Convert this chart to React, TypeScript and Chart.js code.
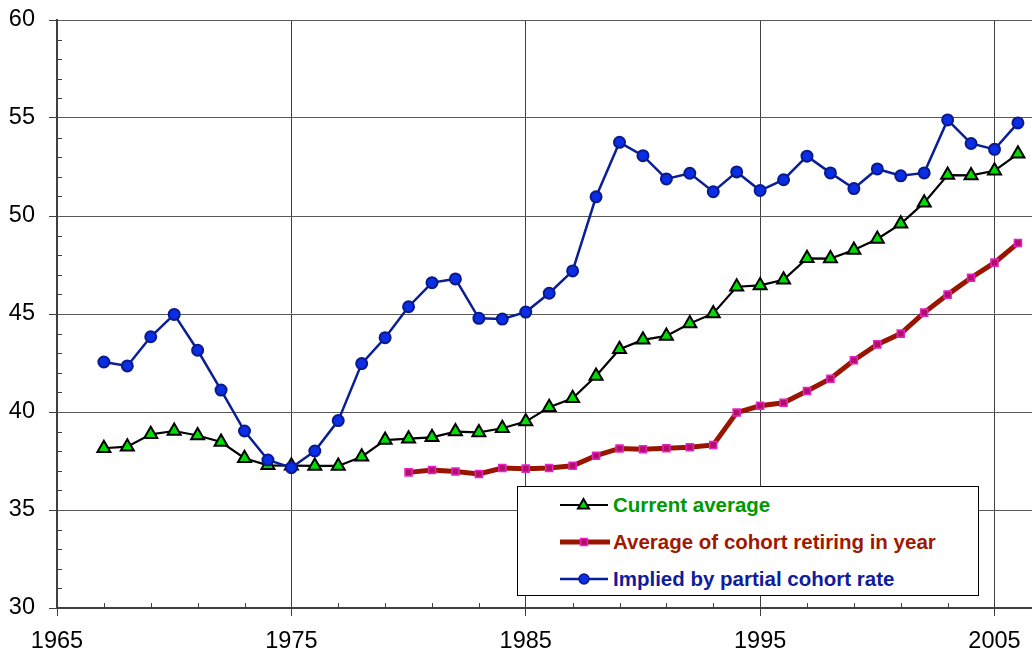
import React, { useEffect, useRef } from "react";
import { Chart, registerables } from "chart.js";

Chart.register(...registerables);

// ---------- data ----------
const years = [
  1967, 1968, 1969, 1970, 1971, 1972, 1973, 1974, 1975, 1976,
  1977, 1978, 1979, 1980, 1981, 1982, 1983, 1984, 1985, 1986,
  1987, 1988, 1989, 1990, 1991, 1992, 1993, 1994, 1995, 1996,
  1997, 1998, 1999, 2000, 2001, 2002, 2003, 2004, 2005, 2006,
];

const cohortYears = [
  1980, 1981, 1982, 1983, 1984, 1985, 1986, 1987, 1988, 1989,
  1990, 1991, 1992, 1993, 1994, 1995, 1996, 1997, 1998, 1999,
  2000, 2001, 2002, 2003, 2004, 2005, 2006,
];

const currentAverage = [
  38.15, 38.23, 38.86, 39.03, 38.8, 38.47, 37.64, 37.28, 37.26, 37.25,
  37.25, 37.72, 38.57, 38.64, 38.71, 39.0, 38.96, 39.17, 39.51, 40.24,
  40.7, 41.84, 43.2, 43.68, 43.88, 44.52, 45.03, 46.39, 46.46, 46.75,
  47.84, 47.83, 48.27, 48.83, 49.6, 50.68, 52.09, 52.07, 52.31, 53.17,
];

const cohortAverage = [
  36.92, 37.04, 36.96, 36.84, 37.14, 37.11, 37.14, 37.26, 37.77, 38.14,
  38.1, 38.15, 38.2, 38.32, 39.97, 40.32, 40.47, 41.07, 41.7, 42.64,
  43.45, 44.0, 45.07, 45.99, 46.85, 47.62, 48.62,
];

const impliedPartial = [
  42.55, 42.35, 43.84, 44.98, 43.15, 41.12, 39.03, 37.55, 37.16, 38.01,
  39.56, 42.47, 43.79, 45.37, 46.6, 46.79, 44.78, 44.74, 45.1, 46.06,
  47.2, 50.98, 53.76, 53.08, 51.89, 52.18, 51.24, 52.25, 51.3, 51.85,
  53.05, 52.2, 51.4, 52.4, 52.05, 52.2, 54.9, 53.7, 53.4, 54.75,
];

const seriesLabels = [
  "Current average",
  "Average of cohort retiring in year",
  "Implied by partial cohort rate",
];

const xTickLabels = [1965, 1975, 1985, 1995, 2005];
const yTickLabels = [30, 35, 40, 45, 50, 55, 60];

const X_MIN = 1965;
const X_MAX = 2006.6;
const Y_MIN = 30;
const Y_MAX = 60;

// ---------- styles ----------
const FONT = "'Liberation Sans', Arial, sans-serif";
const GREEN_TEXT = "#009900";
const RED_TEXT = "#a01800";
const BLUE_TEXT = "#101c9c";

const xMinorTicks: number[] = [];
for (let v = X_MIN; v <= 2005; v += 2) xMinorTicks.push(v);
const yMinorTicks: number[] = [];
for (let v = Y_MIN; v <= Y_MAX; v += 1) yMinorTicks.push(v);

const minorTickPlugin = {
  id: "minorTicks",
  beforeDatasetsDraw(chart: any) {
    const { ctx, chartArea, scales } = chart;
    ctx.save();
    ctx.strokeStyle = "#404040";
    ctx.lineWidth = 1;
    for (const v of xMinorTicks) {
      if (xTickLabels.includes(v)) continue;
      const px = Math.round(scales.x.getPixelForValue(v)) + 0.5;
      ctx.beginPath();
      ctx.moveTo(px, chartArea.bottom);
      ctx.lineTo(px, chartArea.bottom - 5);
      ctx.stroke();
    }
    for (const v of yMinorTicks) {
      if (yTickLabels.includes(v)) continue;
      const py = Math.round(scales.y.getPixelForValue(v)) + 0.5;
      ctx.beginPath();
      ctx.moveTo(chartArea.left, py);
      ctx.lineTo(chartArea.left + 5, py);
      ctx.stroke();
    }
    ctx.restore();
  },
};

function LegendRow({ top, kind, label, color }: { top: number; kind: string; label: string; color: string }) {
  let sample: React.ReactNode = null;
  if (kind === "tri") {
    sample = (
      <svg width={50} height={20} style={{ display: "block" }}>
        <line x1={0} y1={10} x2={48} y2={10} stroke="#000" strokeWidth={2} />
        <polygon points="23.5,4 29,13.5 18,13.5" fill="#00dd00" stroke="#000" strokeWidth={2} />
      </svg>
    );
  } else if (kind === "sq") {
    sample = (
      <svg width={50} height={20} style={{ display: "block" }}>
        <line x1={-1} y1={10} x2={50} y2={10} stroke="#9a1500" strokeWidth={5} />
        <rect x={20.5} y={6.5} width={7} height={7} fill="#b0106a" stroke="#e822c8" strokeWidth={1.5} />
      </svg>
    );
  } else {
    sample = (
      <svg width={50} height={20} style={{ display: "block" }}>
        <line x1={0} y1={10} x2={48} y2={10} stroke="#0a1e96" strokeWidth={2.5} />
        <circle cx={24} cy={10} r={5} fill="#0a2ee6" stroke="#0a1a8a" strokeWidth={1.5} />
      </svg>
    );
  }
  return (
    <div
      style={{
        position: "absolute",
        left: 0,
        top: top - 15,
        height: 30,
        whiteSpace: "nowrap",
      }}
    >
      <div style={{ position: "absolute", left: 42, top: 5 }}>{sample}</div>
      <span
        style={{
          position: "absolute",
          left: 95,
          top: 0,
          lineHeight: "30px",
          fontFamily: FONT,
          fontWeight: "bold",
          fontSize: 20.5,
          color,
        }}
      >
        {label}
      </span>
    </div>
  );
}

export default function App() {
  const canvasRef = useRef<HTMLCanvasElement | null>(null);

  useEffect(() => {
    if (!canvasRef.current) return;
    const chart = new Chart(canvasRef.current, {
      type: "line",
      data: {
        datasets: [
          {
            label: seriesLabels[2],
            data: years.map((y, i) => ({ x: y, y: impliedPartial[i] })),
            borderColor: "#0a1e96",
            borderWidth: 2.5,
            pointStyle: "circle",
            pointRadius: 5.5,
            pointBackgroundColor: "#0a2ee6",
            pointBorderColor: "#0a1a8a",
            pointBorderWidth: 2,
            tension: 0,
            clip: false,
          },
          {
            label: seriesLabels[0],
            data: years.map((y, i) => ({ x: y, y: currentAverage[i] })),
            borderColor: "#000000",
            borderWidth: 2.2,
            pointStyle: "triangle",
            pointRadius: 7.5,
            pointBackgroundColor: "#00dd00",
            pointBorderColor: "#000000",
            pointBorderWidth: 2,
            tension: 0,
            clip: false,
          },
          {
            label: seriesLabels[1],
            data: cohortYears.map((y, i) => ({ x: y, y: cohortAverage[i] })),
            borderColor: "#9a1500",
            borderWidth: 5,
            pointStyle: "rect",
            pointRadius: 5,
            pointBackgroundColor: "#b0106a",
            pointBorderColor: "#e822c8",
            pointBorderWidth: 1.5,
            tension: 0,
            clip: false,
          },
        ],
      },
      options: {
        animation: false,
        responsive: true,
        maintainAspectRatio: false,
        events: [],
        layout: { autoPadding: false, padding: { top: 20, left: 0, right: 0, bottom: 0 } },
        plugins: {
          legend: { display: false },
          tooltip: { enabled: false },
          title: { display: false },
        },
        scales: {
          x: {
            type: "linear",
            min: X_MIN,
            max: X_MAX,
            afterBuildTicks: (scale: any) => {
              scale.ticks = xMinorTicks.map((v) => ({ value: v }));
            },
            afterFit: (scale: any) => {
              scale.height = 50;
              scale.paddingLeft = 0;
              scale.paddingRight = 0;
            },
            ticks: {
              autoSkip: false,
              maxRotation: 0,
              padding: 11,
              color: "#000",
              font: { family: FONT, size: 23.5 },
              callback: (v: any) => (xTickLabels.includes(Number(v)) ? String(v) : ""),
            },
            grid: {
              drawTicks: true,
              tickLength: 8,
              lineWidth: 1,
              color: (ctx: any) => {
                const v = ctx.tick ? ctx.tick.value : null;
                return v !== null && xTickLabels.includes(v) && v !== X_MIN ? "#404040" : "rgba(0,0,0,0)";
              },
              tickColor: (ctx: any) => {
                const v = ctx.tick ? ctx.tick.value : null;
                return v !== null && xTickLabels.includes(v) ? "#404040" : "rgba(0,0,0,0)";
              },
            },
            border: { display: true, color: "#404040", width: 2 },
          },
          y: {
            type: "linear",
            min: Y_MIN,
            max: Y_MAX,
            afterBuildTicks: (scale: any) => {
              scale.ticks = yMinorTicks.map((v) => ({ value: v }));
            },
            afterFit: (scale: any) => {
              scale.width = 57;
              scale.paddingTop = 0;
              scale.paddingBottom = 0;
            },
            ticks: {
              autoSkip: false,
              padding: 14,
              color: "#000",
              font: { family: FONT, size: 23.5 },
              callback: (v: any) => (yTickLabels.includes(Number(v)) ? String(v) : ""),
            },
            grid: {
              drawTicks: true,
              tickLength: 8,
              lineWidth: 1,
              color: (ctx: any) => {
                const v = ctx.tick ? ctx.tick.value : null;
                return v !== null && yTickLabels.includes(v) && v !== Y_MIN ? "#5a5a5a" : "rgba(0,0,0,0)";
              },
              tickColor: (ctx: any) => {
                const v = ctx.tick ? ctx.tick.value : null;
                return v !== null && yTickLabels.includes(v) ? "#404040" : "rgba(0,0,0,0)";
              },
            },
            border: { display: true, color: "#404040", width: 2 },
          },
        },
      },
      plugins: [minorTickPlugin],
    } as any);
    return () => chart.destroy();
  }, []);

  return (
    <div
      style={{
        position: "fixed",
        left: 0,
        top: 0,
        width: 1032,
        height: 658,
        background: "#fff",
        overflow: "hidden",
      }}
    >
      <div style={{ position: "absolute", left: 0, top: 0, width: 1032, height: 658 }}>
        <canvas ref={canvasRef} />
      </div>
      <div
        style={{
          position: "absolute",
          left: 517,
          top: 486,
          width: 462,
          height: 110,
          boxSizing: "border-box",
          border: "1px solid #000",
          background: "#fff",
        }}
      >
        <LegendRow top={18} kind="tri" label={seriesLabels[0]} color={GREEN_TEXT} />
        <LegendRow top={55} kind="sq" label={seriesLabels[1]} color={RED_TEXT} />
        <LegendRow top={91.5} kind="circ" label={seriesLabels[2]} color={BLUE_TEXT} />
      </div>
    </div>
  );
}
